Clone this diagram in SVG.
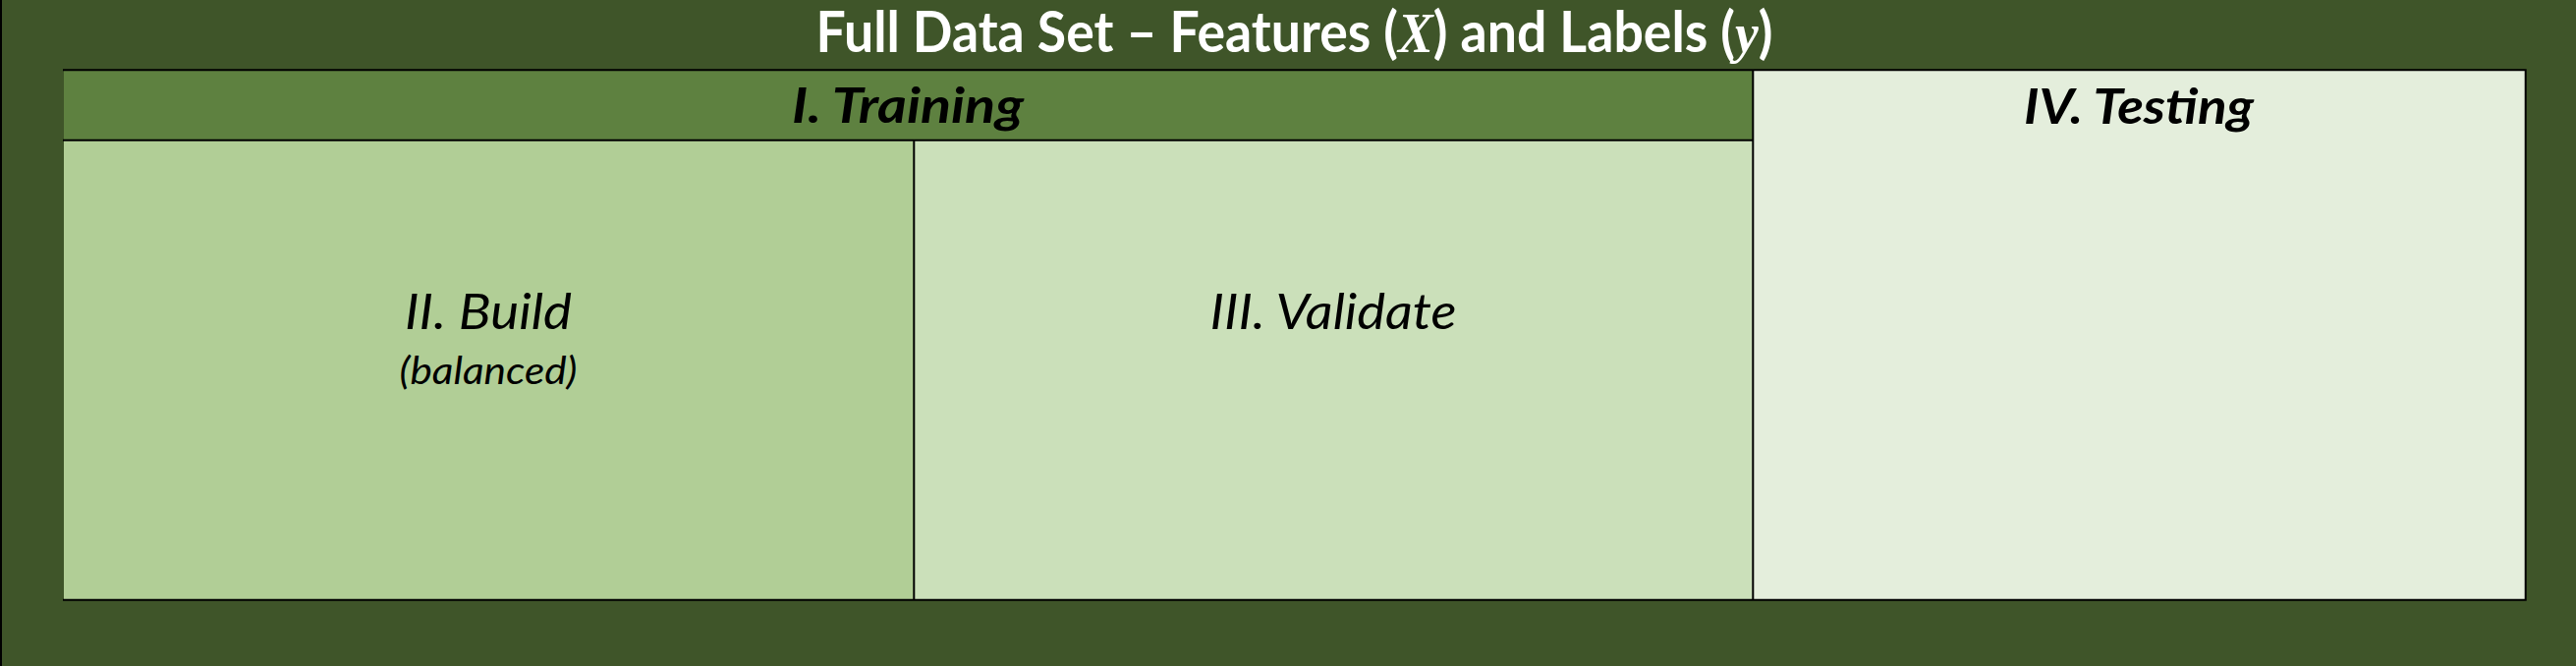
<svg xmlns="http://www.w3.org/2000/svg" width="2622" height="678" viewBox="0 0 2622 678">
<style>
.t{font-family:Lato,"Open Sans","Liberation Sans",sans-serif;text-anchor:middle;fill:#000}
.b{font-weight:bold;font-style:italic;font-size:50px}
.i{font-style:italic;font-size:50px}
.ln{stroke:#000;stroke-width:2;fill:none}
</style>
<rect x="0" y="0" width="2622" height="678" fill="#3F5529"/>
<rect x="0" y="0" width="2" height="678" fill="#000"/>
<g id="title">
<text x="1317.5" y="53" class="t" style="fill:#fff;font-weight:bold;font-size:57px" textLength="974" lengthAdjust="spacingAndGlyphs">Full Data Set – Features (<tspan style="font-family:'Liberation Serif',serif;font-style:italic">X</tspan>) and Labels (<tspan style="font-family:'Liberation Serif',serif;font-style:italic">y</tspan>)</text>
</g>
<g id="training">
<rect x="65" y="71" width="1719" height="71.5" fill="#5E8140"/>
<text x="924" y="125" class="t b" textLength="236" lengthAdjust="spacingAndGlyphs">I. Training</text>
</g>
<g id="build">
<rect x="65" y="142.5" width="865" height="468" fill="#B1CE96"/>
<text x="497" y="335" class="t i" textLength="170" lengthAdjust="spacingAndGlyphs">II. Build</text>
<text x="497" y="391" class="t" style="font-style:italic;font-size:38px" textLength="181" lengthAdjust="spacingAndGlyphs">(balanced)</text>
</g>
<g id="validate">
<rect x="930" y="142.5" width="854" height="468" fill="#CBE0BA"/>
<text x="1357" y="335" class="t i" textLength="251" lengthAdjust="spacingAndGlyphs">III. Validate</text>
</g>
<g id="testing">
<rect x="1784" y="71" width="787" height="540" fill="#E4EEDC"/>
<text x="2177" y="126" class="t b" textLength="234" lengthAdjust="spacingAndGlyphs">IV. Testing</text>
</g>
<g id="borders">
<path class="ln" d="M64 71.2H2571.7M64 142.7H1784.3M930.3 142.7V610.7M1784.3 71.2V610.7M2570.7 71.2V611.7M64 610.7H2571.7"/>
</g>
</svg>
